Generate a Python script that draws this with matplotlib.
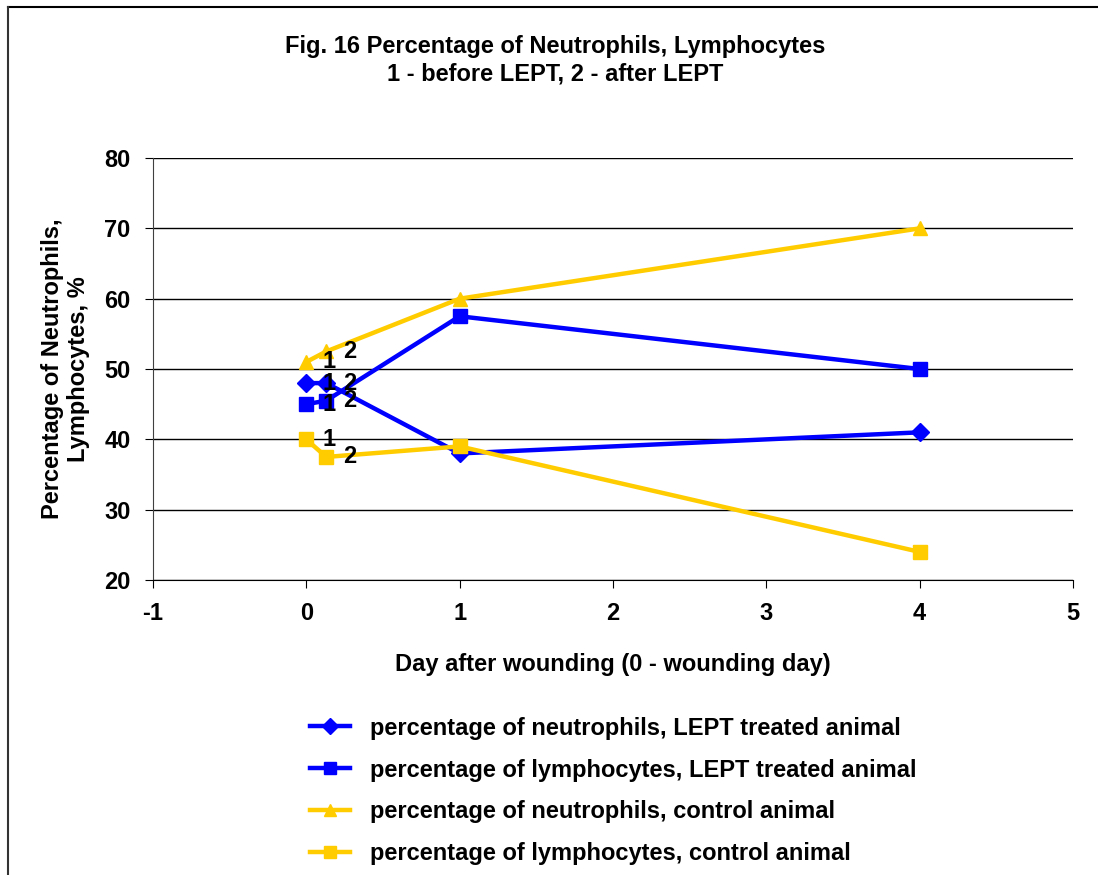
import matplotlib.pyplot as plt
from matplotlib.lines import Line2D

plt.rcParams["font.family"] = ["Liberation Sans", "DejaVu Sans"]
plt.rcParams["font.weight"] = "bold"
plt.rcParams["axes.unicode_minus"] = False

# day after wounding: 0 = before LEPT, small step = after LEPT
days = [0, 0.13, 1, 4]
neut_lept = [48, 48, 38, 41]
lymph_lept = [45, 45.5, 57.5, 50]
neut_ctrl = [51, 52.5, 60, 70]
lymph_ctrl = [40, 37.5, 39, 24]
point_labels = ["1", "2"]

series = [
    (neut_lept, "#0000FF", "D", 9, "percentage of neutrophils, LEPT treated animal"),
    (lymph_lept, "#0000FF", "s", 10, "percentage of lymphocytes, LEPT treated animal"),
    (neut_ctrl, "#FFCC00", "^", 10, "percentage of neutrophils, control animal"),
    (lymph_ctrl, "#FFCC00", "s", 10, "percentage of lymphocytes, control animal"),
]

fig = plt.figure(figsize=(10.98, 8.75), dpi=100)
ax = fig.add_axes([0.1393, 0.3371, 0.9772 - 0.1393, 0.8194 - 0.3371])

handles = []
for vals, color, marker, ms, label in series:
    ax.plot(days, vals, color=color, lw=3.2, marker=marker, ms=ms,
            markeredgecolor=color, zorder=3)
    for i, txt in enumerate(point_labels):
        ax.annotate(txt, (days[i], vals[i]), xytext=(12, 0),
                    textcoords="offset points", ha="left", va="center",
                    fontsize=17, fontweight="bold", zorder=4)
    handles.append(Line2D([], [], color=color, lw=3.2, marker=marker,
                          ms=ms * 0.85, markeredgecolor=color, label=label))

ax.set_xlim(-1, 5)
ax.set_ylim(20, 80)
ax.set_yticks(range(20, 81, 10))
ax.set_xticks(range(-1, 6))
ax.yaxis.grid(True, color="black", lw=1)
ax.set_axisbelow(True)
for s in ["top", "right"]:
    ax.spines[s].set_visible(False)
ax.spines["left"].set_color("#404040")
ax.tick_params(labelsize=17, length=6, pad=10)

ax.set_xlabel("Day after wounding (0 - wounding day)", fontsize=17,
              fontweight="bold", labelpad=20)
ax.set_ylabel("Percentage of Neutrophils,\nLymphocytes, %", fontsize=17,
              fontweight="bold", labelpad=10)

fig.text(0.5055, 0.931, "Fig. 16 Percentage of Neutrophils, Lymphocytes\n1 - before LEPT, 2 - after LEPT",
         ha="center", va="center", fontsize=17, fontweight="bold",
         linespacing=1.25)

fig.legend(handles=handles, loc="upper left", bbox_to_anchor=(0.282, 0.181),
           bbox_transform=fig.transFigure, frameon=False, fontsize=17,
           handlelength=1.7, labelspacing=0.8, handletextpad=0.85,
           borderpad=0, borderaxespad=0)

# outer frame (top and left edges only)
fig.add_artist(Line2D([0.007, 1.0], [0.992, 0.992], color="black", lw=1.5,
                      transform=fig.transFigure))
fig.add_artist(Line2D([0.0075, 0.0075], [0.0, 0.992], color="#333333", lw=1.5,
                      transform=fig.transFigure))

fig.savefig("out.png", dpi=100)
